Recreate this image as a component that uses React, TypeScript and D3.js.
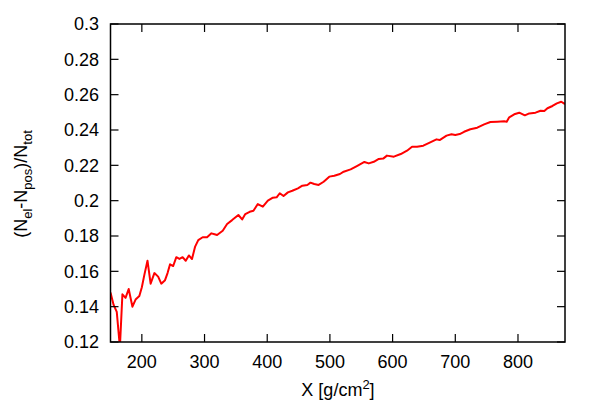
import React, { useEffect, useRef } from 'react';
import * as d3 from 'd3';

// depth values, X in g/cm^2
const depth = [
  150, 155, 160, 165, 169, 174, 179, 185, 190, 196, 200, 204, 209, 214, 220, 226, 231, 237, 241, 245,
  250, 255, 260, 265, 270, 275, 280, 285, 290, 297, 304, 311, 316, 320, 329, 336, 344, 354, 360, 365,
  372, 378, 385, 393, 401, 409, 415, 420, 426, 433, 440, 449, 456, 464, 469, 475, 482, 490, 499, 507,
  516, 522, 533, 543, 555, 562, 570, 578, 585, 591, 602, 613, 623, 631, 639, 649, 660, 670, 675, 686,
  694, 700, 707, 714, 724, 735, 746, 756, 767, 778, 782, 786, 794, 802, 811, 818, 828, 836, 842, 847,
  855, 862, 869, 875,
];

// charge excess (Nel - Npos) / Ntot
const excess = [
  0.148, 0.141, 0.137, 0.117, 0.147, 0.145, 0.15, 0.14, 0.144, 0.146, 0.151, 0.158, 0.166, 0.153, 0.159, 0.157, 0.153, 0.155, 0.159, 0.164,
  0.163, 0.168, 0.167, 0.168, 0.166, 0.169, 0.167, 0.174, 0.1777, 0.1793, 0.1793, 0.1815, 0.181, 0.1806, 0.183, 0.1868, 0.189, 0.1919, 0.1894, 0.1924,
  0.1937, 0.1943, 0.1981, 0.1966, 0.2, 0.2017, 0.2019, 0.2042, 0.2026, 0.2047, 0.2056, 0.207, 0.2085, 0.2089, 0.2102, 0.2094, 0.2089, 0.2107, 0.2136, 0.2141,
  0.2151, 0.2164, 0.2177, 0.2196, 0.2219, 0.2211, 0.222, 0.2236, 0.2238, 0.2255, 0.2249, 0.2264, 0.2283, 0.2305, 0.2305, 0.2311, 0.233, 0.2347, 0.2343, 0.2368,
  0.2376, 0.2372, 0.2377, 0.239, 0.2404, 0.2413, 0.2432, 0.2445, 0.2447, 0.2449, 0.2447, 0.2472, 0.2489, 0.2498, 0.2483, 0.2494, 0.2498, 0.2509, 0.2507, 0.2523,
  0.2536, 0.2551, 0.256, 0.2547,
];

const xTicks = [200, 300, 400, 500, 600, 700, 800];
const yTicks = [0.12, 0.14, 0.16, 0.18, 0.2, 0.22, 0.24, 0.26, 0.28, 0.3];

const W = 598;
const H = 420;
const FONT = '"Liberation Sans", Arial, sans-serif';

export default function App() {
  const ref = useRef<SVGSVGElement>(null);

  useEffect(() => {
    const svg = d3.select(ref.current);
    svg.selectAll('*').remove();

    const left = 110.5, right = 565, top = 24, bottom = 342;
    const x = d3.scaleLinear().domain([150, 875]).range([left, right]);
    const y = d3.scaleLinear().domain([0.12, 0.3]).range([bottom, top]);
    const tickLen = 8;

    svg.append('clipPath').attr('id', 'plotClip')
      .append('rect')
      .attr('x', left).attr('y', top)
      .attr('width', right - left).attr('height', bottom - top);

    // data line
    const pts = depth.map((d, i) => [d, excess[i]] as [number, number]);
    const line = d3.line<[number, number]>().x(d => x(d[0])).y(d => y(d[1]));
    svg.append('path')
      .attr('d', line(pts))
      .attr('clip-path', 'url(#plotClip)')
      .attr('fill', 'none')
      .attr('stroke', '#ff0000')
      .attr('stroke-width', 2)
      .attr('stroke-linejoin', 'round');

    const ax = svg.append('g').attr('stroke', '#000').attr('stroke-width', 1.2);

    // ticks on all four sides, pointing in
    xTicks.forEach(t => {
      ax.append('line').attr('x1', x(t)).attr('x2', x(t)).attr('y1', bottom).attr('y2', bottom - tickLen);
      ax.append('line').attr('x1', x(t)).attr('x2', x(t)).attr('y1', top).attr('y2', top + tickLen);
    });
    yTicks.forEach(t => {
      ax.append('line').attr('x1', left).attr('x2', left + tickLen).attr('y1', y(t)).attr('y2', y(t));
      ax.append('line').attr('x1', right).attr('x2', right - tickLen).attr('y1', y(t)).attr('y2', y(t));
    });

    svg.append('rect')
      .attr('x', left).attr('y', top)
      .attr('width', right - left).attr('height', bottom - top)
      .attr('fill', 'none').attr('stroke', '#000').attr('stroke-width', 1.5);

    const txt = svg.append('g').attr('font-family', FONT).attr('font-size', 18).attr('fill', '#000');

    xTicks.forEach(t => {
      txt.append('text').attr('x', x(t)).attr('y', 367.5).attr('text-anchor', 'middle').text(t);
    });
    yTicks.forEach(t => {
      txt.append('text').attr('x', 99).attr('y', y(t)).attr('dy', '0.35em').attr('text-anchor', 'end').text(t);
    });

    // x title
    const xt = txt.append('text').attr('x', 338).attr('y', 396).attr('text-anchor', 'middle');
    xt.append('tspan').text('X [g/cm');
    xt.append('tspan').attr('font-size', 13).attr('dy', -7).text('2');
    xt.append('tspan').attr('dy', 7).text(']');

    // y title
    const yt = txt.append('text')
      .attr('transform', 'translate(27,184) rotate(-90)')
      .attr('text-anchor', 'middle');
    yt.append('tspan').text('(N');
    yt.append('tspan').attr('font-size', 13).attr('dy', 5).text('el');
    yt.append('tspan').attr('dy', -5).text('-N');
    yt.append('tspan').attr('font-size', 13).attr('dy', 5).text('pos');
    yt.append('tspan').attr('dy', -5).text(')/N');
    yt.append('tspan').attr('font-size', 13).attr('dy', 5).text('tot');
  }, []);

  return (
    <svg
      ref={ref}
      width={W}
      height={H}
      style={{ position: 'absolute', left: 0, top: 0, background: '#fff' }}
    />
  );
}
